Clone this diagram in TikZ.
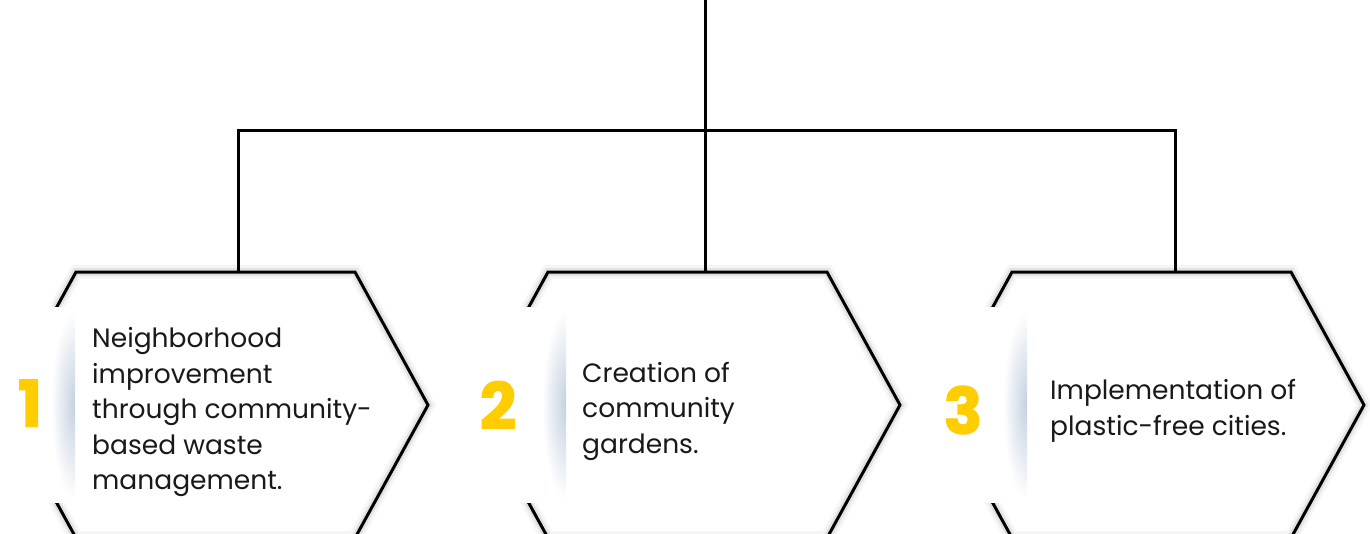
\documentclass[tikz,border=0pt]{standalone}
\usepackage{fontspec}
\setmainfont{Poppins}
\newfontfamily\numfont{Poppins}[FakeBold=2]
\usepackage{tikz}
\usetikzlibrary{shadings}
\usepackage{xcolor}
\definecolor{numyellow}{RGB}{255,205,0}
\definecolor{panelshade}{RGB}{196,208,224}
\definecolor{textgray}{RGB}{25,25,25}
\tikzstyle{hexline} = [line width=3pt, black, line join=miter,%
	preaction = {draw=black, line width=14pt, opacity=0.04},%
	preaction = {draw=black, line width=8pt, opacity=0.07}]
\tikzstyle{link} = [line width=3pt, black]

\begin{document}
\begin{tikzpicture}[x=1pt,y=-1pt]
    \tikzstyle{numlabel}=[font=\fontsize{64}{64}\numfont\bfseries, text=numyellow, inner sep=0pt]
    \tikzstyle{steptext}=[font=\fontsize{26.5}{35.5}\selectfont, text=textgray, align=left, anchor=west, inner sep=0pt]
    \useasboundingbox (0,0) rectangle (1370,533);
    \clip (0,0) rectangle (1370,533);
    \fill[white] (0,0) rectangle (1370,533);
    \foreach \n/\x/\t/\p in {1/76/238/75, 2/548/705/566, 3/1012/1175/1027}{
      \draw[hexline] (\x,272) -- ++(279,0) -- ++(73,133) -- ++(-73,133)
        -- ++(-279,0) -- ++(-73,-133) -- cycle;
      \coordinate (top\n) at (\t,272);
      \fill[white] (\p-110,307) rectangle (\p,503);
      \begin{scope}
        \clip (\p-60,307) rectangle (\p,503);
        \shade[inner color=panelshade, outer color=white] (\p,405) ellipse (24 and 95);
      \end{scope}
    }
    \node[numlabel] (num1) at (30,403) {1};
    \node[numlabel] (num2) at (498,405) {2};
    \node[numlabel] (num3) at (963,410) {3};
    \node[steptext] (txt1) at (92,412) {Neighborhood\\improvement\\through community-\\based waste\\management.};
    \node[steptext] (txt2) at (582,411) {Creation of\\community\\gardens.};
    \node[steptext] (txt3) at (1050,411) {Implementation of\\plastic-free cities.};
    \coordinate (root) at (705,0);
    \coordinate (junc) at (705,130);
    \draw[link] (root) -- (top2);
    \draw[link] (top1) |- (junc) -| (top3);
  \end{tikzpicture}
\end{document}
